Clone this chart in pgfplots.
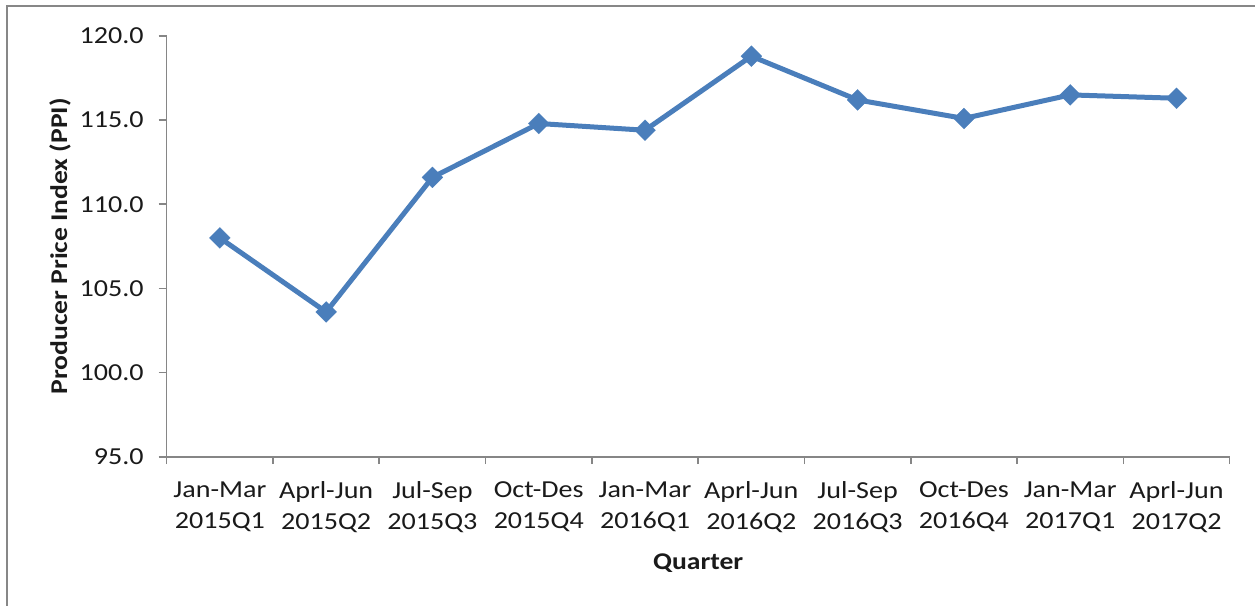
\documentclass[border=0pt]{standalone}
\usepackage{fontspec}
\setmainfont{Carlito}[FakeStretch=1.15]
\usepackage{pgfplots}
\pgfplotsset{compat=1.18}
\definecolor{lineblue}{HTML}{4A7EBB}
\definecolor{axgray}{HTML}{868686}
\definecolor{framegray}{HTML}{878787}
\definecolor{txt}{HTML}{1A1A1A}
\begin{document}
\begin{tikzpicture}
\begin{axis}[
  at={(0,0)}, anchor=south west,
  scale only axis, width=531.5pt, height=210.35pt,
  xmin=-0.5, xmax=9.5, ymin=95, ymax=120,
  axis x line*=bottom, axis y line*=left,
  axis line style={axgray, line width=0.8pt, -},
  every tick/.style={axgray, line width=0.8pt},
  tick align=outside,
  xtick={0,...,9},
  major x tick style={draw=none},
  minor xtick={-0.5,0.5,...,9.5},
  minor tick length=3.7pt,
  major tick length=4pt,
  xticklabels={{Jan-Mar\\2015Q1},{Aprl-Jun\\2015Q2},{Jul-Sep\\2015Q3},{Oct-Des\\2015Q4},{Jan-Mar\\2016Q1},{Aprl-Jun\\2016Q2},{Jul-Sep\\2016Q3},{Oct-Des\\2016Q4},{Jan-Mar\\2017Q1},{Aprl-Jun\\2017Q2}},
  xticklabel style={align=center, font=\fontsize{12.2}{15.6}\selectfont, text=txt, yshift=-5pt},
  ytick={95,100,...,120},
  yticklabel style={font=\fontsize{12.2}{14}\selectfont, text=txt, xshift=-4pt},
  /pgf/number format/assume math mode=true,
  yticklabel={\pgfmathprintnumber[fixed,fixed zerofill,precision=1]{\tick}},
  xlabel={Quarter},
  ylabel={Producer Price Index (PPI)},
  xlabel style={font=\bfseries\fontsize{12}{14}\selectfont, text=txt, at={(axis description cs:0.5,-0.2527)}, anchor=center},
  ylabel style={font=\bfseries\fontsize{12}{14}\selectfont, text=txt, at={(axis description cs:-0.1003,0.5)}, anchor=center},
  clip=false,
]
\addplot[color=lineblue, line width=2.5pt, mark=square*, mark size=3.7pt, mark options={rotate=45, fill=lineblue, draw=lineblue, line width=0.1pt}]
coordinates {
(0,108.0) (1,103.6) (2,111.6) (3,114.8) (4,114.4) (5,118.8) (6,116.2) (7,115.1) (8,116.5) (9,116.3)
};
\end{axis}
\draw[framegray, line width=1pt] (-79.7pt,-80pt) -- (-79.7pt,225.35pt) -- (560pt,225.35pt);
\pgfresetboundingbox
\useasboundingbox (-83.35pt,-74.65pt) rectangle (544.15pt,228.35pt);
\end{tikzpicture}
\end{document}
